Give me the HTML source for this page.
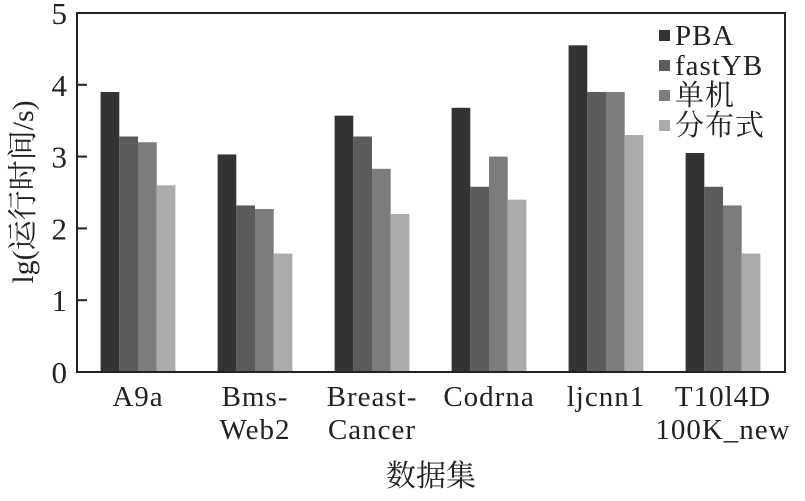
<!DOCTYPE html>
<html><head><meta charset="utf-8"><style>
body{margin:0;background:#fff;}
svg text{font-family:"Liberation Serif","Noto Serif CJK SC",serif;fill:#222;}
</style></head><body>
<svg width="805" height="496" viewBox="0 0 805 496">
<g id="bars"></g>
<g id="axes"></g>
<g id="legend"></g>
</svg>
<script>
const categories=[["A9a"],["Bms-","Web2"],["Breast-","Cancer"],["Codrna"],["ljcnn1"],["T10l4D","100K_new"]];
const seriesNames=["PBA","fastYB","单机","分布式"];
const pba=[3.9,3.03,3.57,3.68,4.55,3.05];
const fastyb=[3.28,2.32,3.28,2.58,3.9,2.58];
const single=[3.2,2.27,2.83,3.0,3.9,2.32];
const dist=[2.6,1.65,2.2,2.4,3.3,1.65];
const yTicks=[0,1,2,3,4,5];
const series=[pba,fastyb,single,dist];
const colors=["#333","#5b5b5b","#7c7c7c","#ababab"];
const NS="http://www.w3.org/2000/svg";
const X0=77,X1=785,Y0=372,Y1=13,ymax=5;
const y=v=>Y0-(v/ymax)*(Y0-Y1);
const groupW=117,firstC=138,barW=18.7;
const xc=i=>firstC+i*groupW;
function mk(tag,attrs,parent){const e=document.createElementNS(NS,tag);for(const k in attrs)e.setAttribute(k,attrs[k]);parent.appendChild(e);return e;}
const gb=document.getElementById('bars'),ga=document.getElementById('axes'),gl=document.getElementById('legend');
series.forEach((s,si)=>{s.forEach((v,i)=>{
 const r=mk('rect',{x:xc(i)-2*barW+si*barW,y:y(v),width:barW,height:Y0-y(v),fill:colors[si]},gb);
 
 
});});
const frame=mk('rect',{x:X0,y:Y1,width:X1-X0,height:Y0-Y1,fill:'none',stroke:'#222','stroke-width':2},ga);


yTicks.forEach(t=>{
 mk('line',{x1:X0,x2:X0+10,y1:y(t),y2:y(t),stroke:'#222','stroke-width':2},ga);
 const tx=mk('text',{x:X0-10,y:y(t)+11,'text-anchor':'end','font-size':31},ga);
 tx.textContent=t;
 
 
});
categories.forEach((c,i)=>{c.forEach((ln,j)=>{
 const tx=mk('text',{x:xc(i),y:406+j*33,'text-anchor':'middle','font-size':29,'letter-spacing':1},ga);
 tx.textContent=ln;
 
 
});});
const yt=mk('text',{x:0,y:0,'text-anchor':'middle','font-size':30,transform:'translate(33,192) rotate(-90)'},ga);
yt.textContent='lg(运行时间/s)';


const xt=mk('text',{x:431,y:486,'text-anchor':'middle','font-size':30},ga);
xt.textContent='数据集';


seriesNames.forEach((n,i)=>{
 const cy=35+i*30;
 mk('rect',{x:659,y:cy-5,width:11,height:11,fill:colors[i]},gl);
 const tx=mk('text',{x:675,y:cy+10,'font-size':29,'letter-spacing':1},gl);
 tx.textContent=n;
 
 
});
</script>
</body></html>
